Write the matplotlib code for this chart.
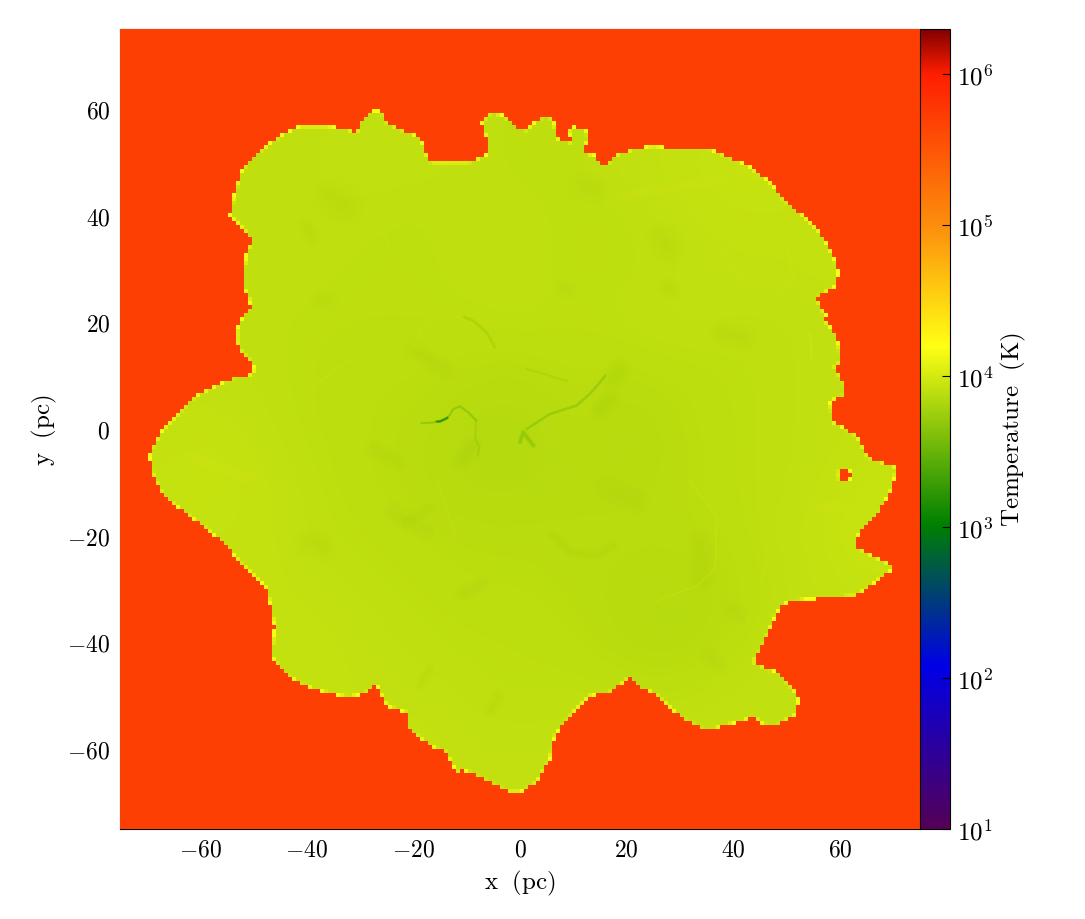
import numpy as np
import matplotlib
matplotlib.use('Agg')
import matplotlib.pyplot as plt
from matplotlib.colors import LinearSegmentedColormap, LogNorm
from matplotlib.path import Path

plt.rcParams['font.family'] = ['cmr10', 'DejaVu Serif']
plt.rcParams['mathtext.fontset'] = 'cm'
plt.rcParams['axes.formatter.use_mathtext'] = True

# --- edge of the cool gas (pc), read clockwise from the left tip ---
edge_x = [-69.5, -68.75, -66.9, -64.4, -61.9, -59.7, -56.25, -53.1, -51.0, -49.6, -50.6, -52.2, -53.1, -53.1,
          -51.6, -50.4, -50.9, -51.9, -51.75, -51.25, -50.3, -51.6, -53.1, -54.4, -53.6, -52.6, -50.9, -47.5,
          -44.4, -41.25, -36.9, -32.5, -30.6, -29.9, -28.1, -25.9, -25.0, -21.9, -18.75, -17.8, -16.9, -13.75,
          -9.4, -5.9, -6.25, -7.2, -5.6, -3.75, -1.25,
          0, 1.25, 3.1, 4.7, 6.25, 7.0, 9.4, 10, 9.1, 9.4, 12.2, 12.8, 11.9, 14.1, 15.3, 16.4, 17.5, 21.25, 25,
          29.4, 35, 38.75, 43.1, 46.9, 49.4, 53.1, 56.25, 58.4, 59.7, 59.4, 55.6, 56.9, 57.5, 57.2, 59.4, 60.3,
          58.9, 60.9, 60.9, 58.1, 58.75, 63.1,
          65.3, 70.6, 69.7, 66.9, 63.4, 63.1, 70.3, 63.1, 53.75, 50, 48.1, 45.9, 43.75, 48.75, 52.2, 51.9, 47.5,
          45, 44.1, 39.4, 35, 30.6, 25, 22.5, 20.6, 16.9, 13.1, 10.3, 6.6, 5.6, 3.1, 0,
          -1.9, -7.5, -10.9, -11.6, -14.1, -16.9, -21.25, -21.25, -25, -26.9, -28.1, -31.9, -36.25, -40.6,
          -44.4, -46.6, -46, -47.2, -47.8, -52.5, -55.6, -60, -66.9, -68.75]
edge_y = [-5.0, -3.1, 0.0, 2.5, 5.3, 6.9, 8.4, 9.9, 9.9, 11.25, 12.8, 14.4, 16.25, 18.75,
          21.6, 22.8, 24.7, 26.9, 30.0, 33.1, 35.3, 37.2, 38.75, 40.0, 43.75, 47.5, 50.3, 53.1,
          55.3, 56.75, 56.9, 56.25, 55.6, 57.8, 59.5, 59.7, 57.5, 56.0, 54.7, 52.2, 50.0, 50.1,
          50.1, 51.6, 54.4, 57.5, 59.25, 59.1, 57.5,
          56.25, 56.1, 57.8, 58.75, 58.1, 54.4, 53.75, 53.75, 55.6, 56.6, 56.4, 54.7, 51.9, 51.25, 49.5, 49.5, 51.25, 52.5, 53.1,
          52.5, 52.6, 51.25, 49.1, 46.25, 43.1, 40, 36.9, 33.1, 29.7, 26.9, 24.7, 21.9, 21.25, 20.3, 17.5, 12.5,
          11.9, 8.1, 6.25, 5.3, 1.25, -1.25,
          -5.3, -7.2, -11.25, -16.25, -19.7, -22.2, -25.9, -31.25, -31.9, -32.5, -34.4, -39.7, -43.75, -45.9, -50, -53.4, -55.9,
          -55, -54, -55.3, -56.6, -54.4, -49.4, -48.75, -46.6, -49.4, -50, -52.8, -57.2, -61.9, -66.25, -68.1,
          -68.1, -65.3, -63.75, -64.7, -60.3, -59.4, -55.9, -53.1, -51.9, -47.8, -49.1, -50.3, -49.4, -48.1,
          -45.6, -42.5, -36.9, -31.25, -29.4, -25, -21.25, -17.8, -12.5, -8.75]

# little hot hole near the right edge
hole_x = [59.8, 62.0, 62.0, 59.8]
hole_y = [-7.6, -7.6, -9.5, -9.5]

hot_logt = 5.70

# log10(T) inside the cool gas, rows from y=70 to y=-70, columns from x=-70 to x=70
cool_logt = [
    [3.91, 3.91, 3.91, 3.91, 3.91, 3.91, 3.91, 3.91, 3.91, 3.91, 3.91, 3.91, 3.91, 3.91, 3.91],
    [3.91, 3.91, 3.91, 3.91, 3.91, 3.92, 3.91, 3.90, 3.90, 3.91, 3.92, 3.93, 3.93, 3.92, 3.91],
    [3.91, 3.91, 3.91, 3.91, 3.92, 3.92, 3.91, 3.90, 3.90, 3.92, 3.93, 3.94, 3.94, 3.93, 3.91],
    [3.91, 3.91, 3.91, 3.91, 3.91, 3.90, 3.91, 3.91, 3.90, 3.90, 3.92, 3.93, 3.93, 3.92, 3.91],
    [3.91, 3.91, 3.91, 3.91, 3.90, 3.90, 3.91, 3.91, 3.90, 3.90, 3.91, 3.92, 3.92, 3.93, 3.91],
    [3.91, 3.91, 3.91, 3.90, 3.90, 3.90, 3.90, 3.91, 3.90, 3.91, 3.92, 3.91, 3.91, 3.92, 3.92],
    [3.91, 3.92, 3.91, 3.90, 3.89, 3.89, 3.88, 3.87, 3.89, 3.88, 3.89, 3.90, 3.91, 3.92, 3.93],
    [3.92, 3.93, 3.92, 3.90, 3.89, 3.88, 3.86, 3.85, 3.88, 3.86, 3.88, 3.90, 3.91, 3.92, 3.93],
    [3.93, 3.94, 3.93, 3.91, 3.89, 3.88, 3.86, 3.86, 3.87, 3.87, 3.88, 3.90, 3.91, 3.93, 3.94],
    [3.93, 3.93, 3.93, 3.91, 3.90, 3.89, 3.88, 3.88, 3.88, 3.88, 3.88, 3.89, 3.92, 3.94, 3.95],
    [3.92, 3.92, 3.93, 3.92, 3.91, 3.90, 3.89, 3.89, 3.88, 3.87, 3.86, 3.88, 3.91, 3.93, 3.93],
    [3.91, 3.91, 3.92, 3.93, 3.92, 3.91, 3.90, 3.90, 3.89, 3.87, 3.86, 3.89, 3.92, 3.93, 3.92],
    [3.91, 3.91, 3.92, 3.93, 3.92, 3.92, 3.91, 3.90, 3.91, 3.90, 3.90, 3.92, 3.92, 3.91, 3.91],
    [3.91, 3.91, 3.91, 3.92, 3.93, 3.93, 3.92, 3.92, 3.92, 3.92, 3.93, 3.92, 3.91, 3.91, 3.91],
    [3.91, 3.91, 3.91, 3.91, 3.92, 3.92, 3.92, 3.92, 3.92, 3.92, 3.92, 3.91, 3.91, 3.91, 3.91],
]

# dark filaments near the middle: x, y, log10(T), width in points, opacity
fil_a_x = [-18.5, -16.5, -15.0, -14.0, -13.2, -12.5, -11.25, -9.7, -8.2]
fil_a_y = [1.1, 1.2, 1.5, 1.8, 2.6, 3.75, 4.25, 3.1, 1.6]
fil_core_x = [-15.6, -15.0, -14.4, -13.6]
fil_core_y = [1.4, 1.4, 1.7, 2.1]
fil_a2_x = [-8.2, -8.4, -7.6, -7.9]
fil_a2_y = [1.6, -1.9, -3.4, -5.0]
fil_b_x = [1.25, 5.6, 10.6, 13.1, 15, 16]
fil_b_y = [0, 2.8, 4.4, 6.6, 8.75, 10]
fil_c_x = [0, 0.6, 2.5]
fil_c_y = [-2.5, -0.6, -3.1]
fil_d_x = [-10.5, -8.75, -6.25, -4.7]
fil_d_y = [21.0, 20.3, 18.1, 15.3]
fil_e_x = [1.25, 5.6, 8.75]
fil_e_y = [11.25, 10, 9]
fil_sets = [(fil_a_x, fil_a_y, 3.5, 1.3, 0.5), (fil_core_x, fil_core_y, 3.05, 1.5, 0.9),
            (fil_a2_x, fil_a2_y, 3.6, 1.3, 0.25), (fil_b_x, fil_b_y, 3.55, 1.6, 0.45),
            (fil_c_x, fil_c_y, 3.5, 2.6, 0.4), (fil_d_x, fil_d_y, 3.6, 1.8, 0.22),
            (fil_e_x, fil_e_y, 3.6, 1.3, 0.18)]

# soft darker patches and swirls: x, y, log10(T), width in points
patch_sets = [([15, 17], [3.75, 5.5], 3.72, 16), ([18.75, 17.5], [11.25, 9.5], 3.74, 18),
              ([33.75, 34.2], [-21, -28], 3.78, 20), ([6.25, 9.4, 14.4, 17.5], [-20, -23, -23.75, -21.9], 3.76, 8),
              ([-27.5, -23], [-3.75, -6], 3.8, 14), ([-11.25, -8.75], [-6.25, -3.1], 3.76, 14),
              ([-20, -14], [15, 11], 3.8, 16), ([-35.3, -33], [43.75, 42], 3.84, 30),
              ([-37.2, -36], [24.4, 24], 3.82, 16), ([-40, -39], [38, 36], 3.84, 12),
              ([27.5, 28.5], [26.6, 26], 3.82, 14), ([8.1, 9], [26.25, 26], 3.82, 14),
              ([11.9, 14], [45.6, 45], 3.84, 22), ([26.9, 28], [35.6, 34], 3.84, 26),
              ([38, 42], [18, 17], 3.84, 20), ([21.9, 16], [-13.75, -11], 3.82, 20),
              ([40, 41], [-33.75, -35], 3.82, 16), ([35.6, 37], [-42.5, -44], 3.84, 16),
              ([-23.75, -18], [-15.6, -19], 3.82, 16), ([-39.4, -37], [-21.25, -22], 3.85, 24),
              ([-11.25, -7], [-31.25, -29], 3.82, 12), ([-21.25, -17], [-17.5, -15], 3.82, 10),
              ([-5.6, -4], [-53, -50], 3.84, 10), ([-18.75, -17], [-48, -45], 3.84, 8)]

# lighter streaks: x, y, log10(T), width in points
light_sets = [([31.9, 36.9, 36.6, 33.1, 25], [-10, -16.25, -26.25, -29.4, -32.5], 4.0, 1.6),
              ([36.9, 40, 43.75], [35, 30, 26.9], 3.98, 3), ([50, 51.25, 48], [35, 28, 25], 3.98, 3),
              ([18.75, 37.5], [43.75, 46.9], 3.98, 9), ([54.4, 54.7], [18, 13.1], 4.06, 2),
              ([-20, -18.1, -15, -11.9], [15, 19.4, 21.25, 21.9], 3.98, 1.6), ([-50, -46.25], [10, 3.75], 3.98, 2),
              ([-31.9, -40], [13.1, 6.9], 3.98, 1.6), ([-29.4, -24.4], [48.1, 33.75], 3.98, 1.6),
              ([-5, -4.7, -6.25], [34.4, 30, 28], 3.98, 1.6), ([-61.9, -50.6], [-5, -9.4], 3.99, 9),
              ([-15.6, -11.9], [-9.4, -20.6], 3.97, 1.6), ([-39.4, -33.75, -30.6], [-11.25, -23.75, -27.5], 3.98, 1.6),
              ([60, 56], [-14.4, -15], 3.99, 9), ([47.5, 45], [-21.9, -28.75], 3.98, 2.5)]

xy_ticks = [-60, -40, -20, 0, 20, 40, 60]
tick_labels = ['$-60$', '$-40$', '$-20$', '$0$', '$20$', '$40$', '$60$']

# --- colour map: stops in log10(T) and colours ---
t_min, t_max = 10.0, 2.0e6
stop_logt = [1.0, 2.08, 3.02, 4.2, 5.0, 6.0, np.log10(t_max)]
stop_rgb = [(85, 0, 85), (0, 0, 230), (0, 128, 0), (255, 255, 20), (252, 142, 12), (255, 30, 0), (128, 0, 0)]
span = np.log10(t_max) - np.log10(t_min)
cmap = LinearSegmentedColormap.from_list(
    'temp', [((lt - 1.0) / span, tuple(c / 255 for c in rgb)) for lt, rgb in zip(stop_logt, stop_rgb)], N=2048)
cmap.set_bad((0, 0, 0, 0))
norm = LogNorm(vmin=t_min, vmax=t_max)


def temp_color(lt):
    return cmap(norm(10 ** lt))


def soft_line(axis, xs, ys, lt, lw, alpha):
    # stacked widths so that the streak fades out at its sides
    for frac in (1.0, 0.75, 0.5, 0.25):
        axis.plot(xs, ys, color=temp_color(lt), lw=lw * frac, alpha=alpha, solid_capstyle='round', zorder=2)


# --- hot layer on the 200x200 cell grid, see-through where the gas is cool ---
cells = 200
sub = 4
fine = -75 + (np.arange(cells * sub) + 0.5) * 150 / (cells * sub)
gx, gy = np.meshgrid(fine, fine)
pts = np.column_stack([gx.ravel(), gy.ravel()])
inside = Path(np.column_stack([edge_x, edge_y])).contains_points(pts)
hole = Path(np.column_stack([hole_x, hole_y])).contains_points(pts)
cover = (inside & ~hole).reshape(cells * sub, cells * sub)
cover = cover.reshape(cells, sub, cells, sub).mean(axis=(1, 3))

hot_lt = np.full((cells, cells), hot_logt)
rim = (cover >= 0.4) & (cover < 0.9)
hot_lt[rim] = 4.24 - (cover[rim] - 0.4) * 0.6
hot = np.ma.masked_where(cover >= 0.9, 10 ** hot_lt)

# --- figure ---
fig = plt.figure(figsize=(10.85, 9.2), dpi=100)
ax = fig.add_axes([120 / 1085, 90 / 920, 800 / 1085, 800 / 920])
cax = fig.add_axes([920 / 1085, 90 / 920, 30 / 1085, 800 / 920])

cool_im = ax.imshow(10 ** np.array(cool_logt), extent=(-75, 75, -75, 75), origin='upper', cmap=cmap, norm=norm,
                    interpolation='bicubic', interpolation_stage='data', aspect='auto', zorder=1)

for xs, ys, lt, lw in patch_sets:
    soft_line(ax, xs, ys, lt, lw, 0.045)
for xs, ys, lt, lw in light_sets:
    soft_line(ax, xs, ys, lt, lw, 0.12)
for xs, ys, lt, lw, op in fil_sets:
    soft_line(ax, xs, ys, lt, lw * 1.4, op * 0.32)

ax.imshow(hot, extent=(-75, 75, -75, 75), origin='lower', cmap=cmap, norm=norm,
          interpolation='nearest', interpolation_stage='data', aspect='auto', zorder=3)

ax.set_xlim(-75, 75)
ax.set_ylim(-75, 75)
ax.set_xticks(xy_ticks, labels=tick_labels)
ax.set_yticks(xy_ticks, labels=tick_labels)
ax.tick_params(direction='in', top=True, right=True, length=6, width=0.8, labelsize=17, pad=7)
ax.set_axisbelow(False)
ax.set_xlabel(r'$\mathrm{x\ \ (pc)}$', fontsize=18, labelpad=5)
ax.set_ylabel(r'$\mathrm{y\ \ (pc)}$', fontsize=18, labelpad=6)

cb = fig.colorbar(cool_im, cax=cax)
cb.ax.minorticks_off()
cb.ax.tick_params(direction='in', length=6, width=0.8, labelsize=18, pad=5)
cb.set_label(r'$\mathrm{Temperature\ \ (K)}$', fontsize=18, labelpad=4)

fig.savefig('out.png', dpi=100)
